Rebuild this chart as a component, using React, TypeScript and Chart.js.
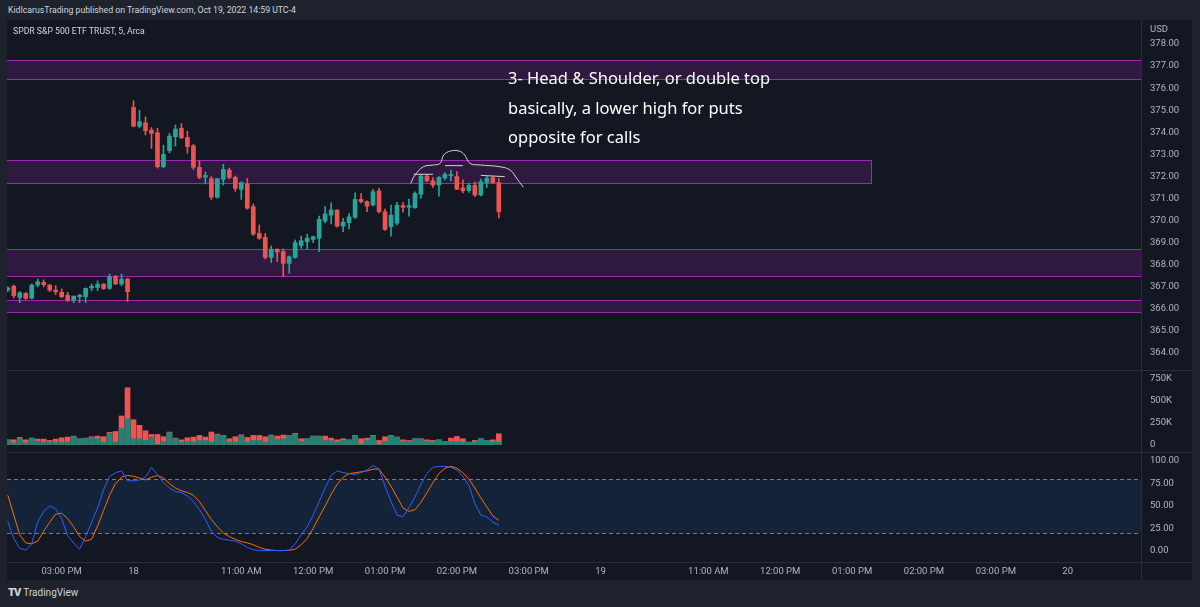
import React, { useEffect, useRef } from "react";
import { Chart, registerables } from "chart.js";
Chart.register(...registerables);

// ---------------- DATA ----------------
// 5-minute candles, bar index 0 = Oct 17 14:15, index 21 = Oct 18 09:30
const candleOpen = [
  366.85, 367.03, 366.52, 366.70, 366.48, 367.08, 367.20, 367.08, 366.85, 366.75,
  366.62, 366.40, 366.55, 366.55, 366.95, 366.97, 367.12, 366.93, 367.46, 367.13,
  367.35,
  375.13, 374.28, 374.43, 374.10, 373.98, 372.44, 373.17, 373.80, 374.18, 373.77,
  373.39, 372.41, 371.97, 371.90, 371.06, 371.87, 372.29, 371.96, 371.42, 371.66,
  370.63, 369.42, 369.24, 368.33, 368.70, 368.60, 368.06, 368.33, 368.87, 369.04,
  369.15, 369.20, 369.98, 370.25, 370.48, 369.75, 369.90, 370.15, 370.96, 370.86,
  370.71, 371.34, 370.40, 369.72, 369.88, 370.68, 370.60, 370.58, 371.19, 372.02,
  371.80, 371.61, 371.93, 372.04, 372.00, 371.48, 371.36, 371.60, 371.16, 371.72,
  371.94, 371.72,
];
const candleHigh = [
  367.00, 367.08, 366.78, 366.74, 367.13, 367.35, 367.32, 367.10, 367.05, 366.90,
  366.75, 366.58, 366.66, 366.95, 367.13, 367.27, 367.15, 367.58, 367.52, 367.58,
  367.38,
  375.43, 375.00, 374.70, 374.22, 374.18, 373.42, 373.95, 374.33, 374.40, 374.05,
  373.45, 372.71, 372.20, 371.99, 371.92, 372.55, 372.38, 372.02, 371.76, 371.91,
  370.75, 369.80, 369.42, 368.85, 368.73, 368.72, 368.40, 369.12, 369.30, 369.38,
  369.30, 370.20, 370.63, 370.81, 370.50, 370.10, 370.32, 371.26, 371.23, 370.90,
  371.42, 371.46, 370.52, 370.70, 370.83, 370.82, 370.98, 371.30, 372.10, 372.10,
  371.95, 372.00, 372.18, 372.29, 372.22, 371.85, 371.70, 371.75, 371.88, 372.00,
  372.00, 371.90,
];
const candleLow = [
  366.78, 366.50, 366.28, 366.42, 366.45, 367.00, 367.00, 366.78, 366.65, 366.50,
  366.33, 366.28, 366.28, 366.28, 366.82, 366.82, 366.88, 366.88, 367.10, 367.05,
  366.33,
  374.25, 374.20, 373.88, 373.27, 372.38, 372.40, 373.07, 373.38, 373.72, 373.05,
  372.32, 371.90, 371.66, 370.96, 371.02, 371.61, 371.90, 371.33, 370.96, 370.52,
  369.33, 369.15, 368.26, 368.10, 368.14, 367.46, 367.61, 368.30, 368.75, 368.70,
  369.00, 368.59, 369.90, 369.85, 369.70, 369.50, 369.62, 370.10, 370.80, 370.40,
  370.66, 370.35, 369.55, 369.30, 369.80, 370.38, 370.20, 370.56, 371.00, 371.75,
  371.50, 371.11, 371.85, 371.80, 371.40, 371.25, 371.28, 371.08, 371.12, 371.50,
  371.70, 370.12,
];
const candleClose = [
  366.95, 366.60, 366.73, 366.48, 367.08, 367.23, 367.10, 366.85, 366.78, 366.55,
  366.40, 366.58, 366.62, 366.93, 367.02, 367.12, 366.92, 367.46, 367.13, 367.35,
  366.78,
  374.28, 374.48, 374.07, 373.95, 372.44, 373.00, 373.83, 374.15, 373.75, 373.35,
  372.41, 371.96, 372.05, 371.06, 371.90, 372.32, 371.96, 371.46, 371.72, 370.56,
  369.39, 369.20, 368.33, 368.70, 368.58, 368.06, 368.36, 369.00, 369.09, 369.20,
  369.27, 370.06, 370.30, 370.48, 369.75, 369.93, 370.17, 370.96, 370.86, 370.66,
  371.31, 370.40, 369.60, 370.25, 370.70, 370.60, 370.68, 371.23, 372.02, 371.80,
  371.61, 371.96, 372.10, 372.09, 371.42, 371.35, 371.60, 371.16, 371.76, 371.92,
  371.72, 370.40,
];
// Volume in thousands (total and buy part)
const volumeK = [
  53, 53, 80, 53, 72, 61, 61, 46, 61, 76,
  84, 95, 65, 72, 88, 95, 88, 137, 148, 323,
  643, 281, 217, 156, 114, 114, 88, 141, 72, 53,
  76, 84, 103, 84, 141, 118, 103, 65, 88, 110,
  80, 103, 103, 88, 107, 95, 107, 103, 126, 65,
  65, 95, 95, 95, 72, 53, 65, 53, 103, 65,
  72, 103, 46, 88, 103, 84, 53, 46, 65, 65,
  53, 46, 53, 34, 72, 91, 65, 27, 46, 65,
  46, 53, 122,
];
const volumeBuyK = [
  53, 20, 65, 19, 72, 38, 30, 27, 27, 27,
  27, 90, 65, 72, 80, 65, 27, 125, 27, 179,
  293, 65, 65, 46, 84, 0, 34, 133, 65, 27,
  34, 27, 46, 46, 27, 110, 95, 27, 27, 103,
  27, 46, 46, 27, 95, 57, 65, 103, 114, 34,
  65, 95, 95, 46, 42, 27, 46, 53, 95, 0,
  46, 95, 0, 34, 95, 84, 34, 34, 65, 65,
  34, 27, 53, 34, 34, 34, 27, 27, 27, 65,
  46, 27, 27,
];
const stochK = [
  33, 14, 3, 1, 8, 32, 44, 50, 47, 36,
  17, 9, 2, 16, 32, 48, 68, 83, 87, 89,
  78, 78, 79, 82, 93, 85, 76, 70, 66, 65,
  61, 55, 46, 35, 22, 15, 13, 12, 11, 8,
  4, 1.5, 0.5, 0.5, 0.5, 0.5, 0.5, 1, 8, 18,
  27, 40, 55, 70, 84, 89, 87, 86, 85, 87,
  90, 95, 91, 72, 55, 40, 38, 48, 60, 74,
  86, 93, 94, 94, 93, 90, 83, 73, 53, 40,
  38, 32, 29,
];
const stochD = [
  62, 40, 18, 9, 8, 11, 22, 32, 41, 42,
  36, 27, 16, 11, 13, 28, 45, 62, 75, 82,
  84, 83, 81, 79, 82, 84, 81, 75, 70, 67,
  65, 62, 55, 45, 35, 27, 20, 16, 13, 10.5,
  9, 7, 4, 2, 1, 0.5, 0.5, 0.7, 2, 7,
  14, 25, 38, 50, 63, 74, 82, 86, 87, 88,
  89, 91, 91, 82, 72, 60, 48, 44, 46, 54,
  65, 76, 86, 92, 94, 92, 87, 80, 70, 59,
  49, 39, 34,
];
const priceTicks = [364, 365, 366, 367, 368, 369, 370, 371, 372, 373, 374, 375, 376, 377, 378];
const volumeTicks = [0, 250, 500, 750];
const stochTicks = [0, 25, 50, 75, 100];
const stochBands = [80, 20];
const timeTickIdx = [9, 21, 39, 51, 63, 75, 87, 99, 117, 129, 141, 153, 165, 177];
const timeTickLabels = [
  "03:00 PM", "18", "11:00 AM", "12:00 PM", "01:00 PM", "02:00 PM", "03:00 PM",
  "19", "11:00 AM", "12:00 PM", "01:00 PM", "02:00 PM", "03:00 PM", "20",
];
// Drawn rectangles (support / resistance zones)
const zoneTop = [377.27, 372.74, 368.71, 366.40];
const zoneBottom = [376.42, 371.72, 367.47, 365.86];
const zoneEndIdx = [999, 144.2, 999, 999];
// Head & shoulder sketch
const hsCurveIdx = [67.3, 68.0, 69.4, 71.1, 72.2, 72.8, 73.9, 75.4, 76.3, 77.2, 78.9, 82.2, 83.9, 85.0, 86.1];
const hsCurvePrice = [371.69, 372.06, 372.44, 372.52, 372.59, 372.97, 373.15, 373.15, 372.97, 372.59, 372.52, 372.44, 372.29, 371.91, 371.51];
const neckStartIdx = [67.8, 73.0, 79.0];
const neckEndIdx = [71.0, 76.0, 83.0];
const neckStartPrice = [372.10, 372.49, 372.05];
const neckEndPrice = [372.10, 372.49, 371.99];
const noteLines = [
  "3- Head & Shoulder, or double top",
  "basically, a lower high for puts",
  "opposite for calls",
];

// ---------------- STYLE ----------------
const BG = "#131722";
const OUTER = "#1e222d";
const SEP = "#2a2e39";
const LABEL = "#b2b5be";
const UP = "#26a69a";
const DOWN = "#ef5350";
const FONT = "Roboto, 'Noto Sans', sans-serif";
const AXIS_W = 51;
const TIME_H = 18;
const X_MIN = -0.13;
const X_MAX = 189.25;

const tickFont = { family: "Roboto", size: 9.5 };

function rightAxis(min: number, max: number, ticks: number[], fmt: (v: number) => string) {
  return {
    position: "right",
    min,
    max,
    afterFit: (s: any) => {
      s.width = AXIS_W;
      s.paddingTop = 0;
      s.paddingBottom = 0;
    },
    afterBuildTicks: (s: any) => {
      s.ticks = ticks.map((v) => ({ value: v }));
    },
    grid: { display: false, drawTicks: false },
    border: { display: false },
    ticks: { color: LABEL, font: tickFont, padding: 9, autoSkip: false, callback: (v: any) => fmt(Number(v)) },
  };
}

function xAxis(show: boolean) {
  const axis: any = {
    type: "linear",
    min: X_MIN,
    max: X_MAX,
    display: show,
    offset: false,
    grid: { display: false, drawTicks: false },
    border: { display: false },
    afterBuildTicks: (s: any) => {
      s.ticks = timeTickIdx.map((v) => ({ value: v }));
    },
    ticks: {
      autoSkip: false,
      maxRotation: 0,
      padding: 4,
      color: LABEL,
      font: tickFont,
      callback: (v: any) => {
        const k = timeTickIdx.indexOf(Number(v));
        return k >= 0 ? timeTickLabels[k] : "";
      },
    },
  };
  if (show) {
    axis.afterFit = (s: any) => {
      s.height = TIME_H;
      s.paddingLeft = 0;
      s.paddingRight = 0;
    };
  }
  return axis;
}

const baseOptions = {
  responsive: false,
  animation: false,
  devicePixelRatio: 1,
  events: [],
  layout: { padding: 0 },
  plugins: { legend: { display: false }, tooltip: { enabled: false } },
};

const zonePlugin = {
  id: "zones",
  beforeDatasetsDraw(chart: any) {
    const { ctx, chartArea: a, scales } = chart;
    const x = scales.x;
    const y = scales.y;
    ctx.save();
    ctx.beginPath();
    ctx.rect(a.left, a.top, a.right - a.left, a.bottom - a.top);
    ctx.clip();
    zoneTop.forEach((t, k) => {
      const x0 = a.left - 2;
      const x1 = Math.min(a.right, Math.round(x.getPixelForValue(zoneEndIdx[k]))) + 0.5;
      const y0 = Math.round(y.getPixelForValue(t)) + 0.5;
      const y1 = Math.round(y.getPixelForValue(zoneBottom[k])) + 0.5;
      ctx.fillStyle = "rgba(156,39,176,0.2)";
      ctx.fillRect(x0, y0, x1 - x0, y1 - y0);
      ctx.strokeStyle = "#9c27b0";
      ctx.lineWidth = 1;
      ctx.strokeRect(x0, y0, x1 - x0, y1 - y0);
    });
    ctx.restore();
  },
};

const bandPlugin = {
  id: "band",
  beforeDatasetsDraw(chart: any) {
    const { ctx, chartArea: a, scales } = chart;
    const y = scales.y;
    const yTop = Math.round(y.getPixelForValue(stochBands[0])) + 0.5;
    const yBot = Math.round(y.getPixelForValue(stochBands[1])) + 0.5;
    ctx.save();
    ctx.fillStyle = "rgba(33,150,243,0.1)";
    ctx.fillRect(a.left, yTop, a.right - a.left, yBot - yTop);
    ctx.strokeStyle = "#787b86";
    ctx.lineWidth = 1;
    ctx.setLineDash([4, 3]);
    [yTop, yBot].forEach((yy) => {
      ctx.beginPath();
      ctx.moveTo(a.left, yy);
      ctx.lineTo(a.right, yy);
      ctx.stroke();
    });
    ctx.restore();
  },
};

export default function App() {
  const priceRef = useRef<HTMLCanvasElement>(null);
  const volRef = useRef<HTMLCanvasElement>(null);
  const stochRef = useRef<HTMLCanvasElement>(null);

  useEffect(() => {
    document.body.style.margin = "0";
    document.body.style.background = OUTER;
    const idx = candleOpen.map((_, i) => i);
    const candleColor = idx.map((i) => (candleClose[i] >= candleOpen[i] ? UP : DOWN));

    const neckSets = neckStartIdx.map((s, k) => ({
      type: "line",
      order: 0,
      data: [
        { x: s, y: neckStartPrice[k] },
        { x: neckEndIdx[k], y: neckEndPrice[k] },
      ],
      borderColor: "#d1d4dc",
      borderWidth: 1,
      pointRadius: 0,
    }));

    const price = new Chart(priceRef.current as HTMLCanvasElement, {
      type: "bar",
      data: {
        datasets: [
          {
            type: "line",
            order: 0,
            data: hsCurveIdx.map((v, k) => ({ x: v, y: hsCurvePrice[k] })),
            borderColor: "#d1d4dc",
            borderWidth: 1,
            pointRadius: 0,
            tension: 0.4,
          },
          ...neckSets,
          {
            type: "bar",
            order: 1,
            data: idx.map((i) => ({ x: i, y: [candleOpen[i], candleClose[i]] })),
            backgroundColor: candleColor,
            barThickness: 4,
            minBarLength: 1,
            grouped: false,
          },
          {
            type: "bar",
            order: 2,
            data: idx.map((i) => ({ x: i, y: [candleLow[i], candleHigh[i]] })),
            backgroundColor: candleColor,
            barThickness: 1,
            grouped: false,
          },
        ] as any,
      },
      options: {
        ...baseOptions,
        scales: {
          x: xAxis(false),
          y: rightAxis(363.23, 379.09, priceTicks, (v) => v.toFixed(2)),
        },
      } as any,
      plugins: [zonePlugin],
    });

    const vol = new Chart(volRef.current as HTMLCanvasElement, {
      type: "bar",
      data: {
        datasets: [
          {
            order: 0,
            data: idx.map((i) => ({ x: i, y: volumeBuyK[i] })),
            backgroundColor: "#14897b",
            barThickness: 5,
            grouped: false,
          },
          {
            order: 1,
            data: idx.map((i) => ({ x: i, y: volumeK[i] })),
            backgroundColor: "#f05350",
            barThickness: 5,
            grouped: false,
          },
        ] as any,
      },
      options: {
        ...baseOptions,
        scales: {
          x: xAxis(false),
          y: rightAxis(-85, 833, volumeTicks, (v) => (v === 0 ? "0" : v + "K")),
        },
      } as any,
    });

    const stoch = new Chart(stochRef.current as HTMLCanvasElement, {
      type: "line",
      data: {
        datasets: [
          {
            data: idx.map((i) => ({ x: i, y: stochK[i] })),
            borderColor: "#2962ff",
            borderWidth: 1,
            pointRadius: 0,
          },
          {
            data: idx.map((i) => ({ x: i, y: stochD[i] })),
            borderColor: "#ff6d00",
            borderWidth: 1,
            pointRadius: 0,
          },
        ] as any,
      },
      options: {
        ...baseOptions,
        scales: {
          x: xAxis(true),
          y: rightAxis(-12.2, 108.9, stochTicks, (v) => v.toFixed(2)),
        },
      } as any,
      plugins: [bandPlugin],
    });

    return () => {
      price.destroy();
      vol.destroy();
      stoch.destroy();
    };
  }, []);

  const abs = (s: any) => ({ position: "absolute" as const, ...s });
  const hLine = (top: number) => (
    <div style={abs({ left: 7, top, width: 1185, height: 1, background: SEP })} />
  );

  return (
    <div
      style={{
        position: "fixed",
        left: 0,
        top: 0,
        width: 1200,
        height: 607,
        background: OUTER,
        overflow: "hidden",
        fontFamily: FONT,
      }}
    >
      <div style={abs({ left: 8, top: 3, fontSize: 8.7, color: "#d1d4dc", whiteSpace: "nowrap", lineHeight: "14px" })}>
        KidIcarusTrading published on TradingView.com, Oct 19, 2022 14:59 UTC-4
      </div>
      <div style={abs({ left: 7, top: 20, width: 1185, height: 560, background: BG })} />
      <canvas ref={priceRef} width={1185} height={350} style={abs({ left: 7, top: 20, width: 1185, height: 350 })} />
      <canvas ref={volRef} width={1185} height={81} style={abs({ left: 7, top: 371, width: 1185, height: 81 })} />
      <canvas ref={stochRef} width={1185} height={127} style={abs({ left: 7, top: 453, width: 1185, height: 127 })} />
      {hLine(370)}
      {hLine(452)}
      {hLine(562)}
      <div style={abs({ left: 1141, top: 20, width: 1, height: 560, background: SEP })} />
      <div style={abs({ left: 13, top: 24, fontSize: 8.7, color: "#d1d4dc", whiteSpace: "nowrap", lineHeight: "14px" })}>
        SPDR S&amp;P 500 ETF TRUST, 5, Arca
      </div>
      <div style={abs({ left: 1150, top: 23, fontSize: 9.5, color: LABEL, lineHeight: "12px" })}>USD</div>
      {noteLines.map((t, k) => (
        <div
          key={k}
          style={abs({
            left: 508,
            top: 67 + k * 29.5,
            fontSize: 16.5,
            color: "#ffffff",
            whiteSpace: "nowrap",
            lineHeight: "22px",
            fontFamily: "'Noto Sans', sans-serif",
          })}
        >
          {t}
        </div>
      ))}
      <div style={abs({ left: 8, top: 586, fontSize: 10, color: "#d1d4dc", whiteSpace: "nowrap", lineHeight: "14px" })}>
        <span style={{ fontWeight: 900, fontSize: 11, letterSpacing: -1, marginRight: 3 }}>TV</span>TradingView
      </div>
    </div>
  );
}
